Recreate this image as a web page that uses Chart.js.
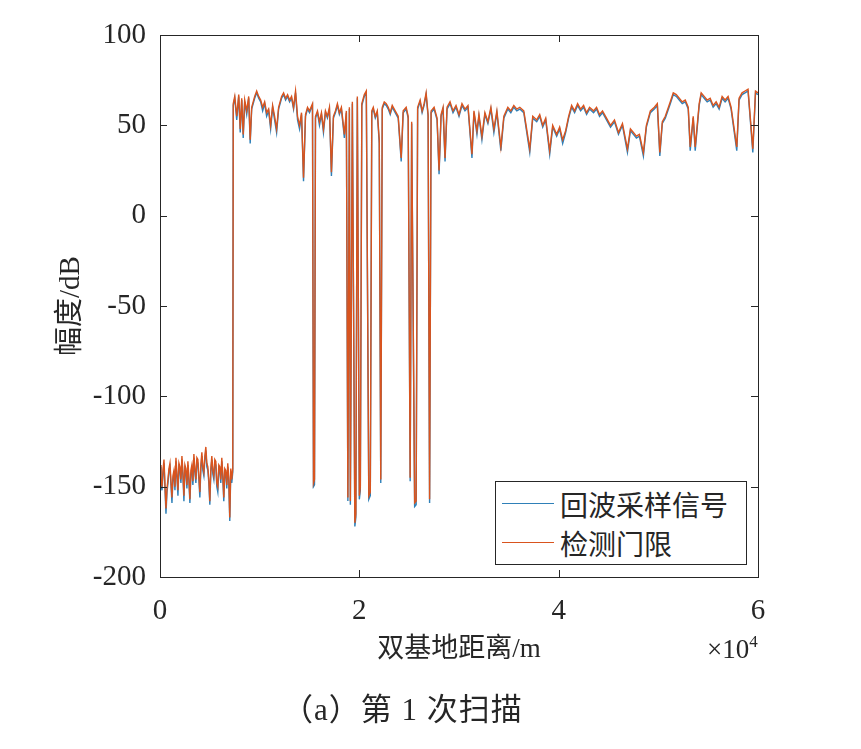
<!DOCTYPE html>
<html>
<head>
<meta charset="utf-8">
<script src="https://cdn.jsdelivr.net/npm/chart.js@4.4.0/dist/chart.umd.min.js"></script>
<style>
  body { margin: 0; background: #fff; }
  #wrap { position: relative; width: 861px; height: 749px; font-family: 'Liberation Serif', 'Noto Sans CJK SC', serif; color: #262626; }
  #legend { position: absolute; left: 495px; top: 481px; width: 252px; height: 84px; border: 1px solid #262626; background: #fff; box-sizing: border-box; padding-top: 2px; }
  .row { height: 39px; display: flex; align-items: center; font-size: 28px; }
  .swatch { width: 52px; height: 0; border-top: 1.5px solid; margin: 0 6px 0 6px; }
  #exp { position: absolute; left: 707px; top: 633px; font-size: 27px; line-height: 1; }
  #exp sup { font-size: 17px; vertical-align: 11px; }
  #caption { position: absolute; left: 282px; top: 694px; font-size: 31px; line-height: 1; letter-spacing: 1px; }
</style>
</head>
<body>
<div id="wrap">
  <canvas id="c" width="861" height="749"></canvas>
  <div id="legend"></div>
  <div id="exp">×10<sup>4</sup></div>
  <div id="caption">（a）第 1 次扫描</div>
</div>
<script>
// 双基地距离 (m)
const distance = [
  0, 100, 200, 300, 400, 500, 600, 700, 800, 900,
  1000, 1100, 1200, 1300, 1400, 1500, 1600, 1700, 1800, 1900,
  2000, 2100, 2200, 2300, 2400, 2500, 2600, 2700, 2800, 2900,
  3000, 3100, 3200, 3300, 3400, 3500, 3600, 3700, 3800, 3900,
  4000, 4100, 4200, 4300, 4400, 4500, 4600, 4700, 4800, 4900,
  5000, 5100, 5200, 5300, 5400, 5500, 5600, 5700, 5800, 5900,
  6000, 6100, 6200, 6300, 6400, 6500, 6600, 6700, 6800, 6900,
  7000, 7100, 7200, 7300,
  7350, 7500, 7700, 7900, 8050, 8200, 8350, 8500, 8700, 8900, 9050, 9200, 9500, 9700, 9900,
  10100, 10300, 10500, 10700, 10900, 11100, 11300, 11500, 11700, 11900, 12200, 12400, 12600,
  12800, 13000, 13200, 13400, 13600, 13800, 14000, 14200, 14400, 14600, 14800, 15000, 15300,
  15400, 15500, 15600, 15800, 16000, 16200, 16400, 16600, 16800, 17000, 17200, 17400, 17600,
  17800, 18000, 18200, 18500, 18700, 18850, 19000, 19100, 19300, 19550, 19650, 19800, 20000,
  20100, 20250, 20500, 20700, 20950, 21100, 21250, 21400, 21600, 21800, 22000, 22150, 22300,
  22500, 22700, 22900, 23100, 23300, 23600, 23900, 24200, 24400, 24700, 24900, 25100, 25250,
  25550, 25700, 25850, 26100, 26300, 26500, 26700, 26900, 27050, 27200, 27500, 27800, 28000,
  28200, 28400, 28600, 28800, 29100, 29400, 29700, 30000, 30300, 30600, 30900, 31300, 31500,
  31800, 32000, 32300, 32600, 32900, 33200, 33500, 33800, 34200, 34500, 34900, 35200, 35500,
  35800, 36100, 36500, 37100, 37400, 37800, 38100, 38400, 38700, 39100, 39400, 39800, 40100,
  40400, 40700, 41000, 41300, 41600, 41900, 42200, 42500, 42800, 43100, 43500, 43800, 44100,
  44400, 44800, 45200, 45600, 46000, 46400, 46900, 47200, 47500, 47800, 48100, 48500, 48800,
  49200, 49600, 49900, 50150, 50400, 50700, 51200, 51500, 51800, 52100, 52400, 52700, 53000,
  53200, 53500, 53700, 54100, 54300, 54600, 54900, 55200, 55500, 55800, 56100, 56400, 56700,
  57000, 57300, 57870, 58100, 58400, 58700, 59000, 59480, 59750, 60000
];

// 回波采样信号 (dB)
const echoSignal = [
  -139, -148, -152, -143, -137, -151, -165, -153, -148, -141,
  -139, -149, -159, -146, -143, -152, -136, -145, -155, -139,
  -141, -148, -135, -144, -158, -140, -142, -151, -138, -147,
  -159, -143, -140, -149, -134, -142, -148, -136, -137, -146,
  -156, -140, -133, -141, -144, -135, -130, -139, -141, -148,
  -160, -142, -135, -143, -146, -137, -138, -150, -153, -140,
  -141, -148, -136, -145, -158, -142, -143, -151, -139, -147,
  -169, -142, -148, -142,
  61, 65, 53, 66, 46, 64, 43, 63, 56, 65, 40, 59, 65, 68, 65,
  63, 58, 62, 55, 58, 48, 60, 53, 46, 59, 65, 67, 64,
  66, 63, 65, 59, 68, 53, 48, 56, 19, 55, 59, 57, 61,
  -150, -149, 54, 57, 50, 56, 46, 57, 54, 59, 22, 54, 57,
  61, 56, 59, 43, 57, -158, 59, -160, 62, -172, -167, 65, -157,
  -152, 61, 66, 68, -157, -155, 57, 59, 54, 57, 40, -148, 59,
  62, 61, 59, 56, 60, 57, 54, 30, 57, 59, 54, -147, 51,
  -161, -160, 59, 63, 57, 61, 67, 55, -159, 57, 59, 53, 23,
  55, 59, 30, 59, 62, 57, 60, 55, 61, 58, 60, 32, 57,
  45, 55, 42, 56, 51, 59, 46, 57, 36, 54, 59, 57, 60,
  58, 59, 57, 35, 54, 52, 55, 49, 53, 34, 49, 44, 48,
  40, 46, 54, 60, 57, 61, 58, 60, 56, 59, 57, 59, 55,
  57, 53, 49, 52, 45, 50, 35, 47, 45, 43, 44, 33, 49,
  57, 59, 61, 33, 51, 54, 62, 67, 66, 64, 62, 63, 59,
  36, 54, 36, 61, 67, 65, 63, 64, 60, 62, 59, 65, 63,
  65, 59, 36, 64, 67, 68, 69, 35, 68, 67
];

// 检测门限 (dB)
const threshold = [
  -138, -146, -150, -141, -135, -149, -162, -151, -146, -140,
  -137, -147, -156, -144, -141, -150, -134, -143, -152, -137,
  -139, -146, -133, -142, -155, -138, -140, -149, -136, -145,
  -157, -141, -138, -147, -132, -140, -146, -134, -135, -144,
  -153, -138, -131, -139, -142, -133, -128, -137, -139, -146,
  -158, -140, -133, -141, -144, -135, -136, -148, -150, -138,
  -139, -146, -134, -143, -156, -140, -141, -149, -137, -145,
  -167, -140, -146, -140,
  62, 66, 55, 67, 48, 65, 45, 64, 58, 66, 42, 60, 66, 69, 66,
  64, 60, 63, 57, 59, 50, 61, 55, 48, 60, 66, 68, 65,
  67, 64, 66, 60, 69, 55, 50, 57, 21, 56, 60, 58, 62,
  -148, -146, 55, 58, 52, 57, 48, 58, 55, 60, 24, 55, 58,
  62, 57, 60, 45, 58, -156, 60, -158, 63, -170, -165, 66, -155,
  -150, 62, 67, 69, -155, -153, 58, 60, 55, 58, 42, -146, 60,
  63, 62, 60, 57, 61, 58, 55, 32, 58, 60, 55, -145, 52,
  -159, -158, 60, 64, 58, 62, 68, 56, -157, 58, 60, 54, 25,
  56, 60, 32, 60, 63, 58, 61, 56, 62, 59, 61, 34, 58,
  47, 56, 44, 57, 52, 60, 48, 58, 38, 55, 60, 58, 61,
  59, 60, 58, 37, 55, 53, 56, 50, 54, 36, 50, 45, 49,
  42, 47, 55, 61, 58, 62, 59, 61, 57, 60, 58, 60, 56,
  58, 54, 50, 53, 46, 51, 37, 48, 46, 44, 45, 35, 50,
  58, 60, 62, 35, 52, 55, 63, 68, 67, 65, 63, 64, 60,
  38, 55, 38, 62, 68, 66, 64, 65, 61, 63, 60, 66, 64,
  66, 60, 38, 65, 68, 69, 70, 37, 69, 68
];

const seriesNames = ['回波采样信号', '检测门限'];
const xTicks = [0, 20000, 40000, 60000];
const yTicks = [-200, -150, -100, -50, 0, 50, 100];

const axisColor = '#262626';
const fontFamily = "'Liberation Serif', 'Noto Sans CJK SC', serif";

const toPoints = (ys) => distance.map((d, i) => ({ x: d, y: ys[i] }));

// MATLAB 风格: 内向刻度 + 四边框
const boxTicks = {
  id: 'boxTicks',
  afterDraw(chart) {
    const { ctx, chartArea: a, scales: { x, y } } = chart;
    const len = 7;
    ctx.save();
    ctx.strokeStyle = axisColor;
    ctx.lineWidth = 1;
    ctx.beginPath();
    x.ticks.forEach(t => {
      const px = Math.round(x.getPixelForValue(t.value)) + 0.5;
      ctx.moveTo(px, a.bottom); ctx.lineTo(px, a.bottom - len);
      ctx.moveTo(px, a.top); ctx.lineTo(px, a.top + len);
    });
    y.ticks.forEach(t => {
      const py = Math.round(y.getPixelForValue(t.value)) + 0.5;
      ctx.moveTo(a.left, py); ctx.lineTo(a.left + len, py);
      ctx.moveTo(a.right, py); ctx.lineTo(a.right - len, py);
    });
    ctx.stroke();
    ctx.strokeRect(Math.round(a.left) + 0.5, Math.round(a.top) + 0.5,
      Math.round(a.right - a.left), Math.round(a.bottom - a.top));
    ctx.restore();
  }
};

const chart = new Chart(document.getElementById('c'), {
  type: 'line',
  data: {
    datasets: [
      {
        label: seriesNames[0],
        data: toPoints(echoSignal),
        borderColor: '#2f80b8',
        borderWidth: 1.4,
        pointRadius: 0,
        order: 2
      },
      {
        label: seriesNames[1],
        data: toPoints(threshold),
        borderColor: '#d9541e',
        borderWidth: 1.4,
        pointRadius: 0,
        order: 1
      }
    ]
  },
  options: {
    responsive: false,
    animation: false,
    events: [],
    layout: { padding: { top: 35, right: 103, left: 52, bottom: 79 } },
    plugins: { legend: { display: false }, tooltip: { enabled: false } },
    scales: {
      x: {
        type: 'linear',
        min: 0,
        max: 60000,
        afterBuildTicks: s => { s.ticks = xTicks.map(v => ({ value: v })); },
        afterFit: s => { s.height = 93; },
        grid: { display: false },
        border: { display: false },
        ticks: {
          padding: 9,
          color: axisColor,
          font: { family: fontFamily, size: 29 },
          maxRotation: 0,
          callback: v => String(v / 10000)
        },
        title: {
          display: true,
          text: '双基地距离/m',
          color: axisColor,
          padding: 4,
          font: { family: fontFamily, size: 27 }
        }
      },
      y: {
        min: -200,
        max: 100,
        afterBuildTicks: s => { s.ticks = yTicks.map(v => ({ value: v })); },
        afterFit: s => { s.width = 108; },
        grid: { display: false },
        border: { display: false },
        ticks: {
          padding: 6,
          color: axisColor,
          font: { family: fontFamily, size: 29 }
        },
        title: {
          display: true,
          text: '幅度/dB',
          color: axisColor,
          padding: 2,
          font: { family: fontFamily, size: 29 }
        }
      }
    }
  },
  plugins: [boxTicks]
});

// 图例 (放在坐标区右下角)
const legend = document.getElementById('legend');
chart.data.datasets.forEach(ds => {
  const row = document.createElement('div');
  row.className = 'row';
  const sw = document.createElement('div');
  sw.className = 'swatch';
  sw.style.borderTopColor = ds.borderColor;
  const label = document.createElement('span');
  label.textContent = ds.label;
  row.appendChild(sw);
  row.appendChild(label);
  legend.appendChild(row);
});
</script>
</body>
</html>
